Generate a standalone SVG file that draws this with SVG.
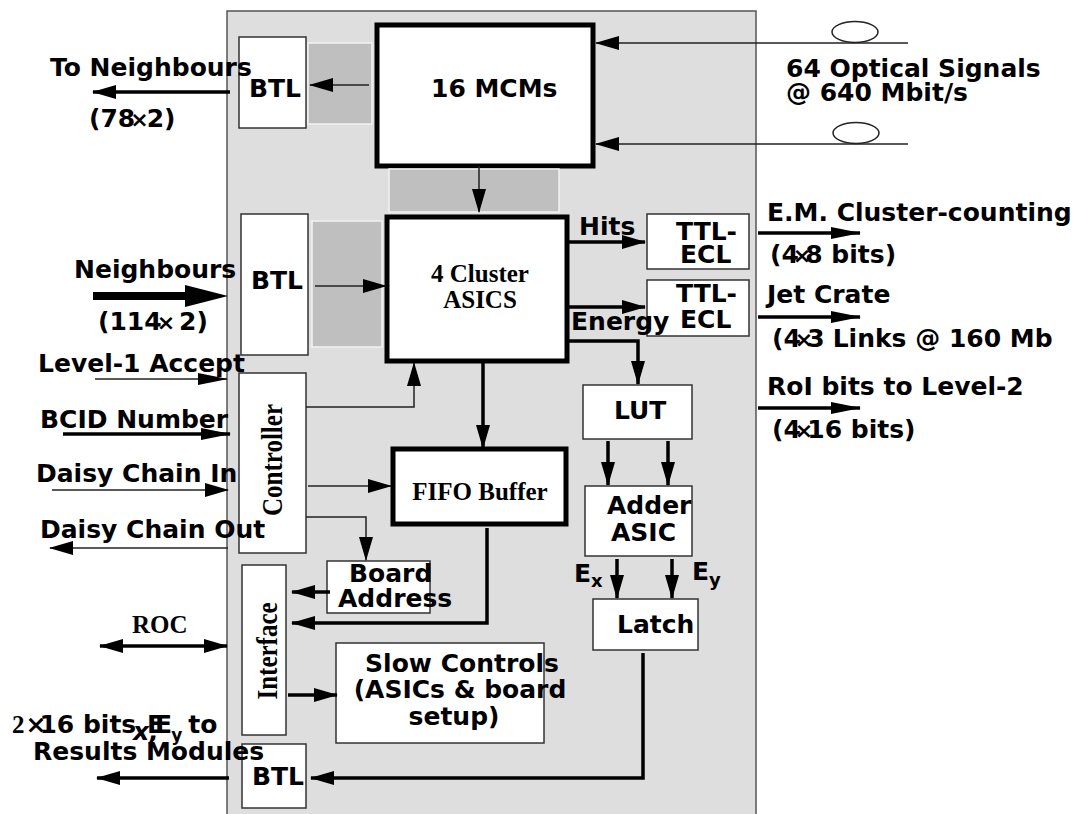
<svg xmlns="http://www.w3.org/2000/svg" width="1079" height="814" viewBox="0 0 1079 814">
<style>
.t{font-family:"DejaVu Sans",Verdana,sans-serif;font-weight:bold;font-size:25px;fill:#000}
.s{font-family:"Liberation Serif","Times New Roman",serif;font-weight:bold;font-size:25px;fill:#000}
.box{fill:#fff;stroke:#333;stroke-width:1.5}
.thick{fill:#fff;stroke:#000;stroke-width:5}
.grey{fill:#bfbfbf;stroke:#f2f2f2;stroke-width:1.5}
.ln{fill:none;stroke:#222;stroke-width:1.5}
.lk{fill:none;stroke:#000;stroke-width:3.5}
.lb{fill:none;stroke:#000;stroke-width:8}
.x{font-size:22px}
</style>
<defs>
<marker id="a" viewBox="0 0 24 14" refX="23" refY="7" markerWidth="24" markerHeight="14" markerUnits="userSpaceOnUse" orient="auto-start-reverse"><path d="M0,0 L24,7 L0,14 z" fill="#000"/></marker>
<marker id="c" viewBox="0 0 30 12" refX="29" refY="6" markerWidth="30" markerHeight="12" markerUnits="userSpaceOnUse" orient="auto"><path d="M0,0 L30,6 L0,12 z" fill="#000"/></marker>
</defs>

<rect id="panel" x="227" y="11" width="529" height="815" fill="#dedede" stroke="#555" stroke-width="1.5"/>

<g id="btl-top"><rect class="box" x="239" y="37" width="67" height="91"/><text class="t" x="249" y="97">BTL</text></g>
<g id="grey-top"><rect class="grey" x="308" y="43" width="64" height="81"/></g>
<g id="mcm"><rect class="thick" x="377" y="25" width="216" height="141"/><text class="t" x="431" y="97">16 MCMs</text></g>
<g id="grey-mid"><rect class="grey" x="389" y="169" width="170" height="43"/></g>
<g id="btl-mid"><rect class="box" x="241" y="214" width="67" height="141"/><text class="t" x="251" y="289">BTL</text></g>
<g id="grey-left"><rect class="grey" x="312" y="221" width="70" height="126"/></g>
<g id="cluster"><rect class="thick" x="387" y="217" width="180" height="144"/><text class="s" x="480" y="282" text-anchor="middle">4 Cluster</text><text class="s" x="480" y="308" text-anchor="middle">ASICS</text></g>
<g id="ttl1"><rect class="box" x="647" y="214" width="102" height="55"/><text class="t" x="676" y="240">TTL-</text><text class="t" x="680" y="263">ECL</text></g>
<g id="ttl2"><rect class="box" x="647" y="280" width="102" height="56"/><text class="t" x="676" y="302">TTL-</text><text class="t" x="680" y="328">ECL</text></g>
<g id="controller"><rect class="box" x="239" y="373" width="67" height="180"/><text class="s" transform="translate(282,460) rotate(-90) scale(1,1.2)" text-anchor="middle" font-size="26">Controller</text></g>
<g id="fifo"><rect class="thick" x="393" y="449" width="173" height="75"/><text class="s" x="480" y="500" text-anchor="middle">FIFO Buffer</text></g>
<g id="lut"><rect class="box" x="583" y="385" width="109" height="54"/><text class="t" x="614" y="419">LUT</text></g>
<g id="adder"><rect class="box" x="585" y="486" width="107" height="70"/><text class="t" x="607" y="514">Adder</text><text class="t" x="611" y="541">ASIC</text></g>
<g id="latch"><rect class="box" x="593" y="599" width="105" height="51"/><text class="t" x="617" y="633">Latch</text></g>
<g id="board"><rect class="box" x="327" y="561" width="103" height="52"/><text class="t" x="349" y="582">Board</text><text class="t" x="338" y="607">Address</text></g>
<g id="interface"><rect class="box" x="242" y="565" width="44" height="170"/><text class="s" transform="translate(277,651) rotate(-90) scale(1,1.15)" text-anchor="middle" font-size="26">Interface</text></g>
<g id="slow"><rect class="box" x="336" y="643" width="208" height="100"/><text class="t" x="462" y="672" text-anchor="middle">Slow Controls</text><text class="t" x="460" y="698" text-anchor="middle">(ASICs &amp; board</text><text class="t" x="454" y="725" text-anchor="middle">setup)</text></g>
<g id="btl-bot"><rect class="box" x="242" y="744" width="64" height="64"/><text class="t" x="252" y="785">BTL</text></g>

<g id="optical">
<ellipse cx="855" cy="32" rx="23" ry="10.5" fill="#fff" stroke="#222" stroke-width="1.5"/>
<ellipse cx="856" cy="133" rx="23" ry="10.5" fill="#fff" stroke="#222" stroke-width="1.5"/>
<text class="t" x="786" y="77">64 Optical Signals</text>
<text class="t" x="786" y="101">@ 640 Mbit/s</text>
</g>

<g id="connectors">
<line class="ln" x1="908" y1="43" x2="596" y2="43" marker-end="url(#a)"/>
<line class="ln" x1="908" y1="144" x2="596" y2="144" marker-end="url(#a)"/>
<line class="ln" x1="369" y1="85" x2="310" y2="85" marker-end="url(#a)"/>
<line class="lk" x1="230" y1="92" x2="93" y2="92" marker-end="url(#a)"/>
<line class="ln" x1="479" y1="166" x2="479" y2="212" marker-end="url(#a)"/>
<line class="ln" x1="315" y1="286" x2="386" y2="286" marker-end="url(#a)"/>
<line class="lb" x1="93" y1="296" x2="195" y2="296"/>
<path d="M185,285 L228,296 L185,307 z" fill="#000"/>
<line class="ln" x1="95" y1="379" x2="227" y2="379" marker-end="url(#c)"/>
<line class="lk" x1="63" y1="434" x2="230" y2="434" marker-end="url(#c)"/>
<line class="ln" x1="52" y1="490" x2="228" y2="490" marker-end="url(#a)"/>
<line class="ln" x1="228" y1="548" x2="50" y2="548" marker-end="url(#a)"/>
<line class="lk" x1="567" y1="242" x2="645" y2="242" marker-end="url(#a)"/>
<line class="lk" x1="567" y1="307" x2="645" y2="307" marker-end="url(#a)"/>
<polyline class="lk" points="567,341 638,341 638,384" marker-end="url(#a)"/>
<line class="lk" x1="483" y1="361" x2="483" y2="448" marker-end="url(#a)"/>
<polyline class="ln" points="306,407 414,407 414,363" marker-end="url(#a)"/>
<line class="ln" x1="308" y1="486" x2="391" y2="486" marker-end="url(#a)"/>
<polyline class="ln" points="306,517 366,517 366,560" marker-end="url(#a)"/>
<line class="lk" x1="608" y1="441" x2="608" y2="485" marker-end="url(#a)"/>
<line class="lk" x1="668" y1="441" x2="668" y2="485" marker-end="url(#a)"/>
<line class="lk" x1="617" y1="559" x2="617" y2="598" marker-end="url(#a)"/>
<line class="lk" x1="672" y1="559" x2="672" y2="598" marker-end="url(#a)"/>
<polyline class="lk" points="487,528 487,623 292,623" marker-end="url(#a)"/>
<line class="lk" x1="330" y1="592" x2="292" y2="592" marker-end="url(#a)"/>
<line class="lk" x1="100" y1="646" x2="227" y2="646" marker-start="url(#a)" marker-end="url(#a)"/>
<line class="lk" x1="288" y1="695" x2="337" y2="695" marker-end="url(#a)"/>
<polyline class="lk" points="643,653 643,778 311,778" marker-end="url(#a)"/>
<line class="lk" x1="229" y1="778" x2="97" y2="778" marker-end="url(#a)"/>
<line class="lk" x1="758" y1="233" x2="860" y2="233" marker-end="url(#c)"/>
<line class="lk" x1="758" y1="317" x2="860" y2="317" marker-end="url(#c)"/>
<line class="lk" x1="758" y1="408" x2="860" y2="408" marker-end="url(#c)"/>
</g>

<g id="labels">
<text class="t" x="50" y="76">To Neighbours</text>
<text class="t" x="89" y="127">(78<tspan class="x" dx="-5">×</tspan><tspan dx="-2">2)</tspan></text>
<text class="t" x="74" y="278">Neighbours</text>
<text class="t" x="98" y="330">(114<tspan class="x" dx="-5">×</tspan><tspan dx="4">2)</tspan></text>
<text class="t" x="38" y="372">Level-1 Accept</text>
<text class="t" x="40" y="428">BCID Number</text>
<text class="t" x="36" y="482">Daisy Chain In</text>
<text class="t" x="40" y="538">Daisy Chain Out</text>
<text class="s" x="132" y="633" font-size="24">ROC</text>
<text class="s" x="12" y="733" font-weight="normal">2<tspan class="t" dx="1">×</tspan><tspan class="t" dx="-7">16 bits</tspan></text>
<text class="t" x="133" y="740" font-size="17" font-style="italic">x,</text>
<text class="t" x="147" y="733">E<tspan dx="-9">E</tspan><tspan font-size="17" dy="8" dx="-1">y</tspan><tspan dy="-8" dx="6">to</tspan></text>
<text class="t" x="33" y="760">Results Modules</text>
<text class="t" x="579" y="235">Hits</text>
<text class="t" x="571" y="330">Energy</text>
<text class="t" x="574" y="582">E<tspan font-size="18" dy="5">x</tspan></text>
<text class="t" x="692" y="580">E<tspan font-size="18" dy="6">y</tspan></text>
<text class="t" x="767" y="221">E.M. Cluster-counting</text>
<text class="t" x="770" y="263">(4<tspan class="x" dx="-6">×</tspan><tspan dx="-6">8 bits)</tspan></text>
<text class="t" x="767" y="303">Jet Crate</text>
<text class="t" x="772" y="347">(4<tspan class="x" dx="-6">×</tspan><tspan dx="-6">3</tspan><tspan dx="8">Links @ 160 Mb</tspan></text>
<text class="t" x="767" y="395">RoI bits to Level-2</text>
<text class="t" x="772" y="438">(4<tspan class="x" dx="-6">×</tspan><tspan dx="-6">16 bits)</tspan></text>
</g>
</svg>
